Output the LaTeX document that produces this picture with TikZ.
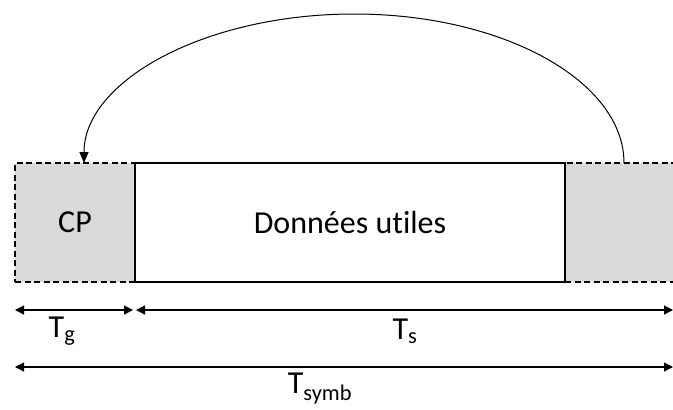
\documentclass[tikz,border=0pt]{standalone}
\usepackage{fontspec}
\setmainfont[Ligatures={NoCommon}]{Carlito}
\usetikzlibrary{arrows.meta}
\definecolor{boxgray}{HTML}{D9D9D9}
\tikzset{
  gbox/.style={draw=black, dash pattern=on 6pt off 3.5pt, fill=boxgray, minimum height=119pt, inner sep=0pt, line width=1.1pt},
  dbox/.style={draw=black, fill=white, minimum height=119pt, inner sep=0pt, line width=1.1pt},
  dim/.style={line width=1.3pt, {Triangle[length=9pt,width=9pt]}-{Triangle[length=9pt,width=9pt]}},
  lbl/.style={font=\fontsize{32}{36}\selectfont, inner sep=0pt},
  arc/.style={line width=1pt, -{Triangle[length=11pt,width=9pt]}}
}
\begin{document}
\begin{tikzpicture}[x=1pt,y=-1pt]
\useasboundingbox (0,0) rectangle (673,410);
\node[gbox, minimum width=120pt] (right) at (625,222.5) {};
\node[gbox, minimum width=120pt] (cp) at (75,222.5) {};
\node[dbox, minimum width=430pt] (data) at (350,222.5) {};
\node[lbl] at (cp.center) {CP};
\node[lbl] at (data.center) {Données utiles};
\coordinate (src) at (624,163);
\coordinate (dst) at (84,163);
\draw[arc] (src) .. controls (624,81) and (503,14) .. (354,14) .. controls (205,14) and (84,81) .. (dst);
\coordinate (g1) at (15,310);
\coordinate (g2) at (133,310);
\coordinate (s1) at (136,310);
\coordinate (s2) at (673,310);
\coordinate (y1) at (15,367);
\coordinate (y2) at (673,367);
\draw[dim] (g1) -- (g2);
\draw[dim] (s1) -- (s2);
\draw[dim] (y1) -- (y2);
\node[lbl] (tg) at (62,331) {T\textsubscript{g}};
\node[lbl] (ts) at (405,331) {T\textsubscript{s}};
\node[lbl] (tsy) at (320,389) {T\textsubscript{symb}};
\end{tikzpicture}
\end{document}
